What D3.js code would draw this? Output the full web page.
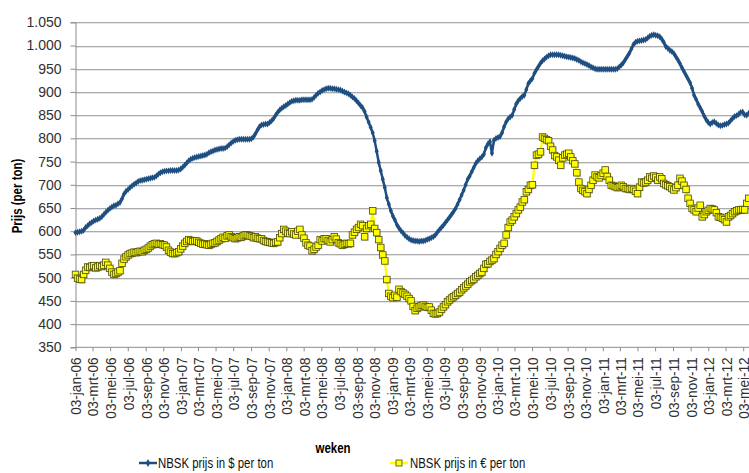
<!DOCTYPE html>
<html>
<head>
<meta charset="utf-8">
<script src="https://cdn.jsdelivr.net/npm/d3@7"></script>
<style>
body { margin: 0; background: #fff; }
svg text { font-family: "Liberation Sans", Arial, sans-serif; fill: #303030; }
</style>
</head>
<body>
<div id="chart"></div>
<script>
const width = 749, height = 473;
const plot = {left: 75.5, top: 22.3, bottom: 347.3};
const narrow = 0.82; // horizontal squeeze to mimic Arial Narrow

// first week of the series, one value per week after that
const firstWeek = new Date(2006, 0, 3);
const monthsNL = ["jan", "feb", "mrt", "apr", "mei", "jun", "jul", "aug", "sep", "okt", "nov", "dec"];
const yTicks = [350, 400, 450, 500, 550, 600, 650, 700, 750, 800, 850, 900, 950, 1000, 1050];
const seriesNames = ["NBSK prijs in $ per ton", "NBSK prijs in \u20ac per ton"];

// NBSK prijs in $ per ton (weekly)
const usdPrices = [
  597, 598, 599, 600, 602, 608, 612, 616, 619, 622, 624, 626, 628, 631, 636, 641, 645, 649, 652, 655,
  656, 659, 662, 670, 680, 686, 690, 694, 698, 701, 704, 707, 709, 710, 711, 712, 713, 714, 715, 716,
  719, 723, 726, 728, 729, 730, 730, 731, 731, 731, 731, 732, 734, 738, 742, 747, 752, 755, 757, 759,
  760, 761, 762, 763, 764, 766, 769, 771, 773, 775, 776, 777, 778, 778, 779, 782, 786, 790, 793, 796,
  797, 798, 798, 798, 798, 798, 798, 799, 803, 810, 818, 825, 829, 830, 831, 831, 834, 838, 843, 850,
  856, 861, 865, 868, 871, 874, 877, 880, 881, 882, 882, 882, 883, 883, 883, 883, 883, 884, 888, 893,
  897, 900, 903, 905, 907, 908, 908, 907, 907, 906, 905, 904, 902, 900, 898, 896, 893, 889, 886, 881,
  876, 871, 866, 858, 846, 835, 824, 812, 795, 772, 748, 730, 712, 694, 672, 658, 644, 633, 624, 614,
  607, 601, 596, 591, 587, 584, 581, 580, 579, 579, 578, 579, 579, 580, 582, 584, 586, 588, 592, 598,
  603, 608, 613, 619, 624, 630, 636, 642, 649, 658, 668, 678, 688, 700, 712, 719, 728, 737, 746, 752,
  756, 760, 766, 780, 788, 793, 768, 796, 800, 802, 804, 812, 825, 835, 842, 846, 850, 862, 874, 881,
  886, 890, 893, 905, 918, 924, 929, 940, 948, 955, 962, 967, 971, 975, 978, 980, 980, 980, 980, 980,
  979, 978, 977, 976, 975, 974, 973, 972, 970, 968, 965, 963, 961, 959, 957, 954, 952, 950, 949, 949,
  949, 949, 949, 949, 949, 949, 949, 949, 950, 954, 958, 963, 970, 977, 984, 993, 1002, 1007, 1009, 1010,
  1011, 1012, 1013, 1016, 1020, 1022, 1023, 1022, 1021, 1019, 1014, 1007, 998, 994, 990, 987, 983, 976, 969, 961,
  952, 944, 936, 928, 920, 908, 893, 884, 874, 866, 858, 848, 840, 834, 831, 834, 836, 832, 829, 827,
  828, 830, 831, 833, 838, 843, 847, 849, 852, 856, 857, 851, 850, 854
];

// NBSK prijs in euro per ton (weekly)
const eurPrices = [
  507, 499, 497, 496, 507, 516, 523, 522, 525, 526, 521, 523, 526, 524, 527, 533, 527, 520, 512, 507,
  509, 512, 515, 531, 540, 545, 549, 552, 553, 555, 554, 556, 557, 556, 559, 561, 564, 568, 571, 573,
  574, 572, 573, 571, 570, 566, 559, 555, 552, 552, 554, 556, 562, 568, 574, 578, 582, 580, 578, 579,
  579, 576, 574, 572, 573, 571, 570, 572, 574, 575, 578, 581, 584, 587, 585, 590, 592, 588, 586, 584,
  586, 588, 587, 590, 592, 592, 590, 589, 586, 588, 585, 584, 584, 580, 578, 577, 576, 575, 574, 576,
  577, 586, 595, 604, 600, 596, 595, 599, 594, 592, 600, 604, 592, 585, 575, 570, 568, 558, 561, 566,
  570, 582, 579, 584, 584, 580, 577, 582, 588, 583, 575, 573, 570, 572, 574, 573, 574, 592, 598, 604,
  608, 615, 612, 588, 606, 612, 615, 644, 606, 597, 582, 565, 549, 536, 496, 466, 460, 457, 462, 458,
  475, 470, 467, 464, 460, 455, 450, 438, 429, 434, 437, 440, 441, 438, 436, 437, 430, 423, 422, 423,
  426, 432, 437, 442, 448, 452, 456, 459, 462, 466, 469, 474, 478, 482, 486, 491, 494, 497, 502, 505,
  509, 512, 520, 529, 530, 535, 538, 541, 550, 556, 563, 570, 574, 592, 608, 620, 624, 631, 638, 646,
  652, 663, 668, 685, 690, 699, 700, 742, 764, 766, 771, 803, 800, 797, 795, 783, 775, 763, 760, 753,
  742, 758, 764, 766, 768, 760, 752, 745, 726, 706, 692, 688, 685, 681, 690, 699, 710, 721, 717, 715,
  720, 725, 732, 718, 710, 699, 698, 696, 694, 696, 699, 696, 692, 692, 690, 692, 690, 686, 681, 695,
  706, 704, 706, 710, 717, 714, 719, 716, 710, 717, 713, 703, 700, 698, 696, 692, 689, 694, 699, 714,
  708, 699, 690, 671, 660, 649, 646, 642, 650, 656, 631, 636, 642, 645, 649, 648, 646, 640, 631, 630,
  628, 625, 620, 631, 634, 638, 642, 644, 646, 646, 647, 646, 660, 671
];

const weeks = usdPrices.map(function (d, i) { return d3.timeDay.offset(firstWeek, 7 * i); });
const usdData = usdPrices.map(function (v, i) { return {date: weeks[i], value: v}; });
const eurData = eurPrices.map(function (v, i) { return {date: weeks[i], value: v}; });

// tick every 2 months on the 3rd
const xTicks = d3.range(0, 39).map(function (i) { return new Date(2006, 2 * i, 3); });

const nl = d3.formatLocale({decimal: ",", thousands: ".", grouping: [3], currency: ["\u20ac", ""]});
const fmtY = nl.format(",");
function fmtX(d) {
  return "03-" + monthsNL[d.getMonth()] + "-" + String(d.getFullYear()).slice(2);
}

var xScale = d3.scaleTime()
  .domain([new Date(2006, 0, 3), new Date(2012, 4, 3)])
  .range([plot.left, 743.2]);
var yScale = d3.scaleLinear().domain([350, 1050]).range([plot.bottom, plot.top]);

var svg = d3.select("#chart").append("svg")
  .attr("width", width)
  .attr("height", height);

// gridlines (with a soft shadow like the original)
svg.append("g").selectAll("line.shadow")
  .data(yTicks.slice(1))
  .enter().append("line")
  .attr("x1", plot.left).attr("x2", width)
  .attr("y1", function (d) { return Math.round(yScale(d)) + 1.5; })
  .attr("y2", function (d) { return Math.round(yScale(d)) + 1.5; })
  .attr("stroke", "#e4e4e4").attr("stroke-width", 1);
svg.append("g").selectAll("line.grid")
  .data(yTicks.slice(1))
  .enter().append("line")
  .attr("x1", plot.left).attr("x2", width)
  .attr("y1", function (d) { return Math.round(yScale(d)) + 0.5; })
  .attr("y2", function (d) { return Math.round(yScale(d)) + 0.5; })
  .attr("stroke", "#ababab").attr("stroke-width", 1);

// y axis
var yAxis = d3.axisLeft(yScale).tickValues(yTicks).tickSize(5).tickPadding(9).tickFormat(fmtY);
var gy = svg.append("g")
  .attr("transform", "translate(" + plot.left + ",0)")
  .call(yAxis);
gy.selectAll("path, line").attr("stroke", "#8c8c8c");
gy.selectAll("text").attr("font-size", 14).style("font-family", "'Liberation Sans', Arial, sans-serif");

// x axis
var xAxis = d3.axisBottom(xScale).tickValues(xTicks).tickSize(4).tickFormat(fmtX);
var gx = svg.append("g")
  .attr("transform", "translate(0," + plot.bottom + ")")
  .call(xAxis);
gx.select("path").attr("d", "M" + plot.left + ",0H" + width).attr("stroke", "#8c8c8c");
gx.selectAll("line").attr("stroke", "#8c8c8c");
gx.selectAll("text")
  .style("font-family", "'Liberation Sans', Arial, sans-serif")
  .attr("font-size", 15.5)
  .attr("transform", "rotate(-90) scale(0.88,1)")
  .attr("text-anchor", "end")
  .attr("x", -10 / 0.88)
  .attr("y", 0)
  .attr("dy", "0.35em");

// axis titles
svg.append("text")
  .attr("transform", "translate(22,196) rotate(-90) scale(" + narrow + ",1)")
  .attr("text-anchor", "middle")
  .attr("font-size", 14)
  .attr("font-weight", "bold")
  .style("fill", "#000")
  .text("Prijs (per ton)");
svg.append("text")
  .attr("transform", "translate(333,453) scale(" + narrow + ",1)")
  .attr("text-anchor", "middle")
  .attr("font-size", 14)
  .attr("font-weight", "bold")
  .style("fill", "#000")
  .text("weken");

var line = d3.line()
  .x(function (d) { return xScale(d.date); })
  .y(function (d) { return yScale(d.value); });

// dollar series
svg.append("path")
  .datum(usdData)
  .attr("fill", "none")
  .attr("stroke", "#1f4e80")
  .attr("stroke-width", 2.5)
  .attr("d", line);
svg.append("g").selectAll("path")
  .data(usdData)
  .enter().append("path")
  .attr("d", d3.symbol().type(d3.symbolDiamond).size(14))
  .attr("transform", function (d) { return "translate(" + xScale(d.date) + "," + yScale(d.value) + ")"; })
  .attr("fill", "#1f4e80");

// euro series
svg.append("path")
  .datum(eurData)
  .attr("fill", "none")
  .attr("stroke", "#ffff00")
  .attr("stroke-width", 2.25)
  .attr("d", line);
var sq = 6.5;
svg.append("g").selectAll("rect.shadow")
  .data(eurData)
  .enter().append("rect")
  .attr("x", function (d) { return xScale(d.date) - sq / 2 + 1; })
  .attr("y", function (d) { return yScale(d.value) - sq / 2 + 1; })
  .attr("width", sq).attr("height", sq)
  .attr("fill", "#000").attr("opacity", 0.15);
svg.append("g").selectAll("rect.marker")
  .data(eurData)
  .enter().append("rect")
  .attr("x", function (d) { return xScale(d.date) - sq / 2; })
  .attr("y", function (d) { return yScale(d.value) - sq / 2; })
  .attr("width", sq).attr("height", sq)
  .attr("fill", "#ffff00")
  .attr("stroke", "#4a4a10")
  .attr("stroke-width", 0.8);

// legend
var legY = 463;
var leg1 = svg.append("g").attr("transform", "translate(139," + legY + ")");
leg1.append("line").attr("x1", 0).attr("x2", 18).attr("stroke", "#1f4e80").attr("stroke-width", 2.5);
leg1.append("path").attr("d", d3.symbol().type(d3.symbolDiamond).size(18))
  .attr("transform", "translate(9,0)").attr("fill", "#1f4e80");
leg1.append("text").attr("transform", "translate(19,0) scale(0.76,1)").attr("dy", "0.35em")
  .attr("font-size", 15).style("fill", "#111").text(seriesNames[0]);

var leg2 = svg.append("g").attr("transform", "translate(390," + legY + ")");
leg2.append("line").attr("x1", 0).attr("x2", 18).attr("stroke", "#ffff00").attr("stroke-width", 2.5);
leg2.append("rect").attr("x", 6).attr("y", -3).attr("width", 6).attr("height", 6)
  .attr("fill", "#ffff00").attr("stroke", "#4a4a10").attr("stroke-width", 0.8);
leg2.append("text").attr("transform", "translate(20,0) scale(0.76,1)").attr("dy", "0.35em")
  .attr("font-size", 15).style("fill", "#111").text(seriesNames[1]);
</script>
</body>
</html>
